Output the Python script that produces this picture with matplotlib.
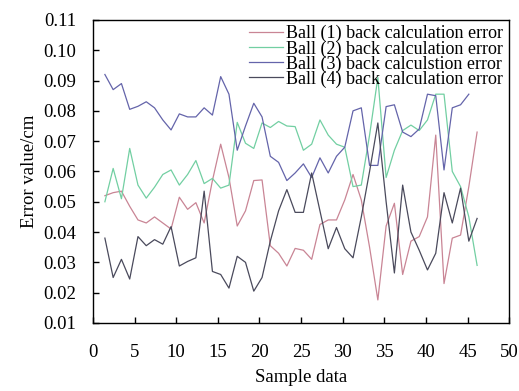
import numpy as np
import matplotlib
matplotlib.use("Agg")
import matplotlib.pyplot as plt
from matplotlib.ticker import FormatStrFormatter, MultipleLocator

# sample index and where each sample sits on the x axis in the source chart
sample = np.arange(1, 47)
x_pos = 1.44 + (sample - 1) * 0.9936

ball1 = [0.052, 0.053, 0.0535, 0.0485, 0.044, 0.043, 0.045, 0.043, 0.041, 0.0515,
         0.0475, 0.0497, 0.043, 0.057, 0.069, 0.058, 0.042, 0.047, 0.057, 0.0572,
         0.0355, 0.033, 0.0288, 0.0346, 0.034, 0.031, 0.0425, 0.044, 0.044, 0.0506,
         0.059, 0.0506, 0.035, 0.0176, 0.042, 0.0495, 0.026, 0.037, 0.0385, 0.045,
         0.072, 0.023, 0.038, 0.039, 0.055, 0.073]
ball2 = [0.050, 0.061, 0.051, 0.0676, 0.0555, 0.0512, 0.0548, 0.059, 0.0605, 0.0555,
         0.059, 0.0636, 0.056, 0.0577, 0.0545, 0.0555, 0.0762, 0.0693, 0.0676, 0.076,
         0.0745, 0.0765, 0.075, 0.0748, 0.067, 0.069, 0.077, 0.072, 0.069, 0.068,
         0.055, 0.0555, 0.072, 0.091, 0.058, 0.067, 0.0735, 0.0753, 0.0735, 0.077,
         0.0855, 0.0855, 0.060, 0.055, 0.045, 0.029]
ball3 = [0.092, 0.087, 0.089, 0.0805, 0.0815, 0.083, 0.081, 0.077, 0.0737, 0.079,
         0.078, 0.078, 0.081, 0.0786, 0.0913, 0.0855, 0.067, 0.075, 0.0825, 0.078,
         0.065, 0.063, 0.057, 0.0595, 0.0625, 0.058, 0.0645, 0.0595, 0.065, 0.068,
         0.080, 0.081, 0.062, 0.062, 0.0814, 0.082, 0.073, 0.0715, 0.074, 0.0855,
         0.085, 0.0605, 0.081, 0.082, 0.0855]
ball4 = [0.038, 0.025, 0.031, 0.0245, 0.0385, 0.0355, 0.0375, 0.036, 0.0418, 0.0288,
         0.0303, 0.0315, 0.0535, 0.027, 0.026, 0.0215, 0.032, 0.030, 0.0205, 0.025,
         0.037, 0.047, 0.054, 0.0465, 0.0465, 0.0595, 0.047, 0.0345, 0.0415, 0.0345,
         0.0315, 0.045, 0.060, 0.076, 0.050, 0.0265, 0.0555, 0.040, 0.034, 0.0275,
         0.033, 0.053, 0.043, 0.0545, 0.037, 0.0445]

labels = ["Ball (1) back calculation error", "Ball (2) back calculation error",
          "Ball (3) back calculstion error", "Ball (4) back calculation error"]
colors = ["#c98595", "#72cfa2", "#6464aa", "#4a4a5c"]

plt.rcParams["font.family"] = ["Liberation Serif", "DejaVu Serif"]

fig = plt.figure(figsize=(5.19, 3.91), dpi=100)
ax = fig.add_axes([0.179, 0.174, 0.802, 0.775])

series = [ball1, ball2, ball3, ball4]
for vals, lab, col in zip(series, labels, colors):
    ax.plot(x_pos[:len(vals)], vals, color=col, lw=0.9, label=lab)

ax.set_xlim(0, 50)
ax.set_ylim(0.01, 0.11)
ax.xaxis.set_major_locator(MultipleLocator(5))
ax.yaxis.set_major_locator(MultipleLocator(0.01))
ax.yaxis.set_major_formatter(FormatStrFormatter("%.2f"))
ax.tick_params(axis="x", direction="in", length=4, width=1, pad=15, labelsize=13.5)
ax.tick_params(axis="y", direction="in", length=4, width=1, pad=12, labelsize=13.5)
for s in ax.spines.values():
    s.set_linewidth(1)

ax.set_xlabel("Sample data", fontsize=13.5, labelpad=6)
ax.set_ylabel("Error value/cm", fontsize=13.5, labelpad=4)

ax.legend(loc="upper right", frameon=False, fontsize=13, handlelength=1.9,
          handletextpad=0.2, labelspacing=-0.12, borderaxespad=0.0,
          borderpad=0.2, bbox_to_anchor=(0.995, 0.995))

fig.savefig("out.png", dpi=100)
